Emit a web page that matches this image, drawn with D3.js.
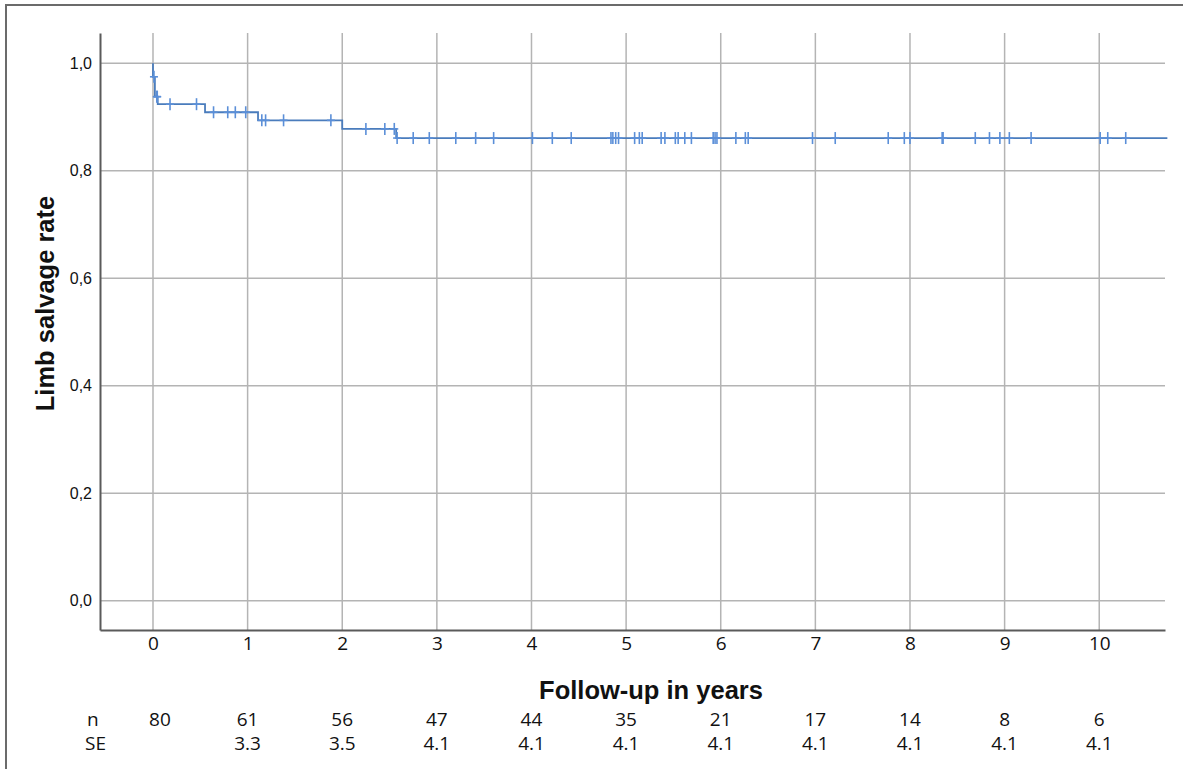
<!DOCTYPE html>
<html>
<head>
<meta charset="utf-8">
<script src="https://cdn.jsdelivr.net/npm/d3@7"></script>
<style>
  html, body { margin: 0; padding: 0; background: #fff; }
  svg { display: block; }
</style>
</head>
<body>
<script>
// ---- data ----
const xTicks = [0, 1, 2, 3, 4, 5, 6, 7, 8, 9, 10];
const yTicks = [0.0, 0.2, 0.4, 0.6, 0.8, 1.0];
const stepTimes = [0, 0, 0.02, 0.05, 0.55, 1.11, 2.0, 2.57];
const stepSurvival = [1.0, 0.975, 0.938, 0.924, 0.909, 0.894, 0.878, 0.861];
const lastFollowUp = 10.72;
const censorTimes = [0.01, 0.04, 0.045, 0.18, 0.46, 0.64, 0.79, 0.87, 0.98, 1.15, 1.19, 1.38, 1.88,
  2.25, 2.45, 2.55, 2.58, 2.75, 2.92, 3.20, 3.41, 3.60, 4.01, 4.22, 4.42, 4.84, 4.86, 4.89, 4.92,
  5.09, 5.14, 5.17, 5.37, 5.41, 5.52, 5.55, 5.62, 5.69, 5.92, 5.94, 5.96, 6.16, 6.26, 6.29,
  6.97, 7.21, 7.77, 7.94, 8.00, 8.34, 8.35, 8.69, 8.84, 8.95, 9.05, 9.28, 10.01, 10.09, 10.28];
const atRiskTimes = [0, 1, 2, 3, 4, 5, 6, 7, 8, 9, 10];
const atRiskN = ["80", "61", "56", "47", "44", "35", "21", "17", "14", "8", "6"];
const atRiskSE = ["", "3.3", "3.5", "4.1", "4.1", "4.1", "4.1", "4.1", "4.1", "4.1", "4.1"];
const yLabel = "Limb salvage rate";
const xLabel = "Follow-up in years";

// ---- layout ----
const W = 1183, H = 769;
const plot = { left: 100, right: 1165, top: 33, bottom: 630 };

const svg = d3.select("body").append("svg").attr("width", W).attr("height", H);

// outer frame
svg.append("path").attr("d", `M6,${H} L6,5 L${W},5`)
  .attr("fill", "none").attr("stroke", "#6b6b6b").attr("stroke-width", 2);

const x = d3.scaleLinear().domain([-0.56, 10.695]).range([plot.left, plot.right]);
const y = d3.scaleLinear().domain([-0.0545, 1.0565]).range([plot.bottom, plot.top]);

// gridlines
const grid = svg.append("g");
grid.selectAll("line.h").data(yTicks).join("line")
  .attr("x1", plot.left).attr("x2", plot.right)
  .attr("y1", d => y(d)).attr("y2", d => y(d))
  .attr("stroke", "#b4b4b4").attr("stroke-width", 1.5);
grid.selectAll("line.v").data(xTicks).join("line")
  .attr("y1", plot.top).attr("y2", plot.bottom)
  .attr("x1", d => x(d)).attr("x2", d => x(d))
  .attr("stroke", "#b4b4b4").attr("stroke-width", 1.5);

// axes
const yAxis = d3.axisLeft(y).tickValues(yTicks).tickSize(0).tickPadding(8)
  .tickFormat(d => d3.format(".1f")(d).replace(".", ","));
const gy = svg.append("g").attr("transform", `translate(${plot.left},0)`).call(yAxis);
gy.select(".domain").attr("stroke", "#5a5a5a").attr("stroke-width", 2);
gy.selectAll("text").attr("font-family", "Liberation Sans, Arial, sans-serif")
  .attr("font-size", 16).attr("fill", "#111");

const xAxis = d3.axisBottom(x).tickValues(xTicks).tickSize(0).tickPadding(7).tickFormat(d3.format("d"));
const gx = svg.append("g").attr("transform", `translate(0,${plot.bottom})`).call(xAxis);
gx.select(".domain").attr("stroke", "#5a5a5a").attr("stroke-width", 2);
gx.selectAll("text").attr("font-family", "Open Sans, sans-serif")
  .attr("font-size", 19).attr("fill", "#111");

// axis titles
svg.append("text")
  .attr("transform", `translate(54,${(195 + 412) / 2}) rotate(-90)`)
  .attr("text-anchor", "middle")
  .attr("font-family", "Liberation Sans, Arial, sans-serif")
  .attr("font-weight", "bold").attr("font-size", 25.5).attr("fill", "#111")
  .text(yLabel);
svg.append("text")
  .attr("x", 651).attr("y", 699)
  .attr("text-anchor", "middle")
  .attr("font-family", "Liberation Sans, Arial, sans-serif")
  .attr("font-weight", "bold").attr("font-size", 25.5).attr("fill", "#111")
  .text(xLabel);

// KM curve
const pts = stepTimes.map((t, i) => [t, stepSurvival[i]]);
pts.push([lastFollowUp, stepSurvival[stepSurvival.length - 1]]);
const line = d3.line().x(d => x(d[0])).y(d => y(d[1])).curve(d3.curveStepAfter);
svg.append("path").datum(pts).attr("d", line)
  .attr("fill", "none").attr("stroke", "#4a7cbc").attr("stroke-width", 1.8);

function survAt(t) {
  let s = 1;
  for (let i = 0; i < stepTimes.length; i++) if (stepTimes[i] <= t) s = stepSurvival[i];
  return s;
}
const cg = svg.append("g").attr("stroke", "#5b8fd8").attr("stroke-width", 1.6);
censorTimes.forEach(t => {
  const cx = x(t), cy = y(survAt(t));
  cg.append("line").attr("x1", cx).attr("x2", cx).attr("y1", cy - 6).attr("y2", cy + 6);
  cg.append("line").attr("x1", cx - 4).attr("x2", cx + 4).attr("y1", cy).attr("y2", cy);
});

// number at risk table
const tf = "Open Sans, sans-serif";
svg.append("text").attr("x", 87).attr("y", 726).attr("font-family", tf).attr("font-size", 19)
  .attr("fill", "#111").text("n");
svg.append("text").attr("x", 85).attr("y", 750).attr("font-family", tf).attr("font-size", 19)
  .attr("fill", "#111").text("SE");
svg.append("g").selectAll("text").data(atRiskTimes).join("text")
  .attr("x", (d, i) => x(d) + (i === 0 ? 7 : 0)).attr("y", 726)
  .attr("text-anchor", "middle").attr("font-family", tf).attr("font-size", 19).attr("fill", "#111")
  .text((d, i) => atRiskN[i]);
svg.append("g").selectAll("text").data(atRiskTimes).join("text")
  .attr("x", d => x(d)).attr("y", 750)
  .attr("text-anchor", "middle").attr("font-family", tf).attr("font-size", 19).attr("fill", "#111")
  .text((d, i) => atRiskSE[i]);
</script>
</body>
</html>
